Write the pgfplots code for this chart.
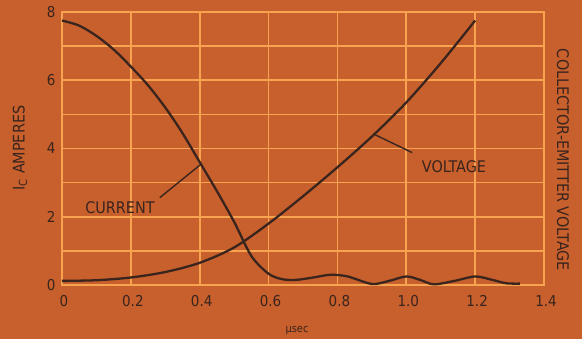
\documentclass[border=0pt]{standalone}
\usepackage{fontspec}
\setmainfont{DejaVu Sans Condensed}
\usepackage{pgfplots}
\pgfplotsset{compat=1.18}
\definecolor{bg}{RGB}{199,96,44}
\definecolor{gridc}{RGB}{248,163,80}
\definecolor{ink}{RGB}{58,36,30}
\begin{document}
\begin{tikzpicture}
\fill[bg] (0pt,0pt) rectangle (582pt,339pt);
\begin{axis}[
  at={(62pt,54pt)}, anchor=south west,
  scale only axis, width=482pt, height=273pt,
  xmin=0, xmax=1.4, ymin=0, ymax=8,
  xtick={0,0.2,...,1.4},
  xticklabels={0,0.2,0.4,0.6,0.8,1.0,1.2,1.4},
  ytick={0,2,4,6,8},
  minor ytick={1,3,5,7},
  grid=both,
  major grid style={gridc, line width=1.6pt},
  minor grid style={gridc, line width=1.6pt},
  axis line style={gridc, line width=1.6pt},
  tick style={draw=none},
  ticklabel style={font=\fontsize{15}{16}\selectfont, text=ink},
  /pgf/number format/assume math mode=true,
  xticklabel style={yshift=-7pt, xshift=2pt},
  yticklabel style={xshift=-3pt},
  clip=false,
]
\addplot[ink, line width=2.3pt, smooth, tension=0.5] coordinates {
(0,7.75)(0.05,7.6)(0.1,7.3)(0.15,6.9)(0.2,6.4)(0.25,5.85)(0.3,5.2)(0.35,4.45)
(0.4,3.6)(0.45,2.75)(0.5,1.85)(0.55,0.85)(0.6,0.33)(0.64,0.17)(0.68,0.15)
(0.73,0.22)(0.78,0.3)(0.83,0.25)(0.9,0.03)(0.95,0.12)(1.0,0.25)(1.04,0.15)
(1.08,0.02)(1.14,0.12)(1.2,0.25)(1.25,0.15)(1.29,0.05)(1.33,0.04)
};
\addplot[ink, line width=2.3pt, smooth, tension=0.5] coordinates {
(0,0.12)(0.1,0.14)(0.2,0.22)(0.3,0.38)(0.4,0.65)(0.5,1.1)(0.6,1.8)(0.7,2.6)
(0.8,3.45)(0.9,4.35)(1.0,5.35)(1.1,6.5)(1.2,7.75)
};
\draw[ink, line width=1.4pt] (axis cs:0.284,2.56) -- (axis cs:0.405,3.55);
\draw[ink, line width=1.4pt] (axis cs:0.91,4.4) -- (axis cs:1.017,3.88);
\end{axis}
\node[text=ink, font=\fontsize{16}{17}\selectfont] at (120pt,131pt) {CURRENT};
\node[text=ink, font=\fontsize{16}{17}\selectfont] at (454pt,172pt) {VOLTAGE};
\node[text=ink, font=\fontsize{11}{12}\selectfont] at (297pt,8pt) {μsec};
\node[text=ink, font=\fontsize{16}{17}\selectfont, rotate=90] at (20pt,191pt) {I\textsubscript{C} AMPERES};
\node[text=ink, font=\fontsize{16}{17}\selectfont, rotate=-90] at (563pt,179pt) {COLLECTOR-EMITTER VOLTAGE};
\end{tikzpicture}
\end{document}
